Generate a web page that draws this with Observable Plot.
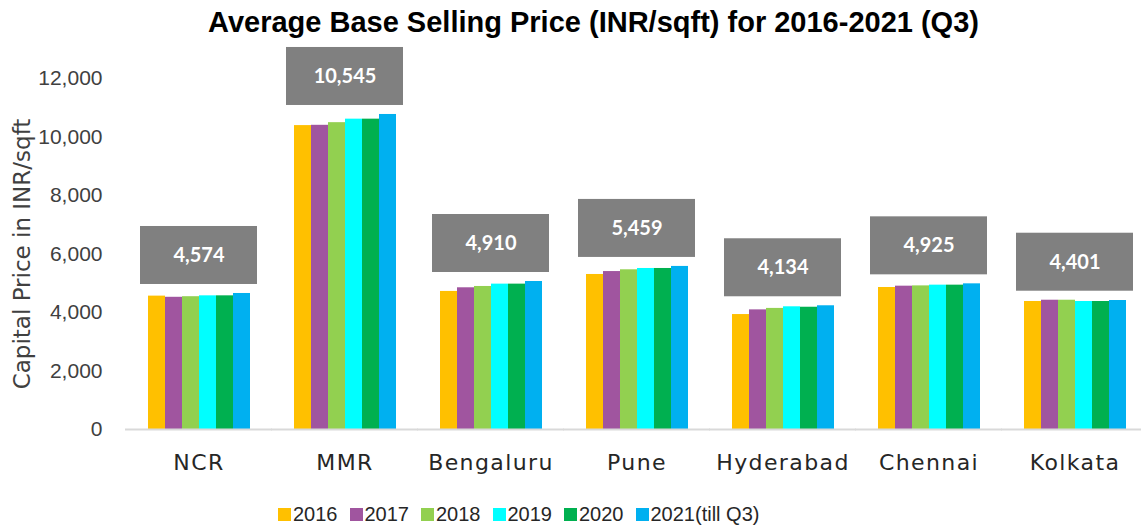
<!DOCTYPE html>
<html>
<head>
<meta charset="utf-8">
<script src="https://cdn.jsdelivr.net/npm/d3@7"></script>
<script src="https://cdn.jsdelivr.net/npm/@observablehq/plot@0.6"></script>
<style>
  html, body { margin: 0; padding: 0; background: #fff; overflow: hidden; width: 1141px; height: 526px; }
  #title { width: 1141px; box-sizing: border-box; padding-left: 46px; height: 46px; line-height: 44px; text-align: center;
    font-family: "Liberation Sans", Arial, sans-serif; font-weight: bold; font-size: 29px; color: #000; white-space: nowrap; }
  #chart { position: absolute; left: 0; top: 46px; }
  #legend { position: absolute; left: 278px; top: 504px; height: 20px; display: flex; align-items: center; gap: 12px;
    font-family: "Liberation Sans", Arial, sans-serif; font-size: 20px; color: #262626; }
  .item { display: flex; align-items: center; white-space: nowrap; }
  .sw { width: 13px; height: 13px; margin-right: 2px; }
  g[aria-label="fx-axis tick label"] text { letter-spacing: 1.4px; }
</style>
</head>
<body>
<div id="title">Average Base Selling Price (INR/sqft) for 2016-2021 (Q3)</div>
<div id="chart"></div>
<div id="legend"></div>
<script>
const cities = ["NCR", "MMR", "Bengaluru", "Pune", "Hyderabad", "Chennai", "Kolkata"];
const years = ["2016", "2017", "2018", "2019", "2020", "2021(till Q3)"];
const price2016 = [4560, 10390, 4720, 5300, 3930, 4855, 4376];
const price2017 = [4520, 10400, 4845, 5400, 4090, 4900, 4420];
const price2018 = [4540, 10490, 4890, 5460, 4140, 4910, 4420];
const price2019 = [4570, 10610, 4970, 5505, 4195, 4935, 4376];
const price2020 = [4570, 10610, 4970, 5505, 4180, 4935, 4376];
const price2021 = [4650, 10770, 5060, 5575, 4230, 4980, 4410];
const averages = [4574, 10545, 4910, 5459, 4134, 4925, 4401];
const colors = ["#FFC000", "#A0559F", "#92D050", "#00FFFF", "#00B050", "#00B0F0"];
const yTicks = [0, 2000, 4000, 6000, 8000, 10000, 12000];

const series = [price2016, price2017, price2018, price2019, price2020, price2021];
const data = [];
cities.forEach((c, i) => series.forEach((s, j) => data.push({city: c, year: years[j], value: s[i]})));

const H = 444, mTop = 32, mBottom = 61;
const unitsPerPx = 12000 / (H - mTop - mBottom);
const labels = cities.map((c, i) => {
  const mx = d3.max(series, s => s[i]);
  return {city: c, avg: averages[i], y1: mx + 9 * unitsPerPx, y2: mx + 67 * unitsPerPx, ym: mx + 38 * unitsPerPx};
});

const chart = Plot.plot({
  width: 1150,
  height: H,
  marginTop: mTop,
  marginBottom: mBottom,
  marginLeft: 125,
  marginRight: 1.5,
  style: {fontFamily: "Liberation Sans, Arial, sans-serif", background: "#fff", maxWidth: "none", overflow: "visible"},
  fx: {domain: cities, paddingInner: 0.27, paddingOuter: 0.135, label: null},
  x: {domain: years, padding: 0, axis: null},
  y: {domain: [0, 12000]},
  color: {domain: years, range: colors},
  marks: [
    Plot.axisY({ticks: yTicks, tickFormat: d3.format(","), tickSize: 0, tickPadding: 43, fontSize: 21, color: "#404040",
      label: "Capital Price in INR/sqft", labelAnchor: "center", labelArrow: "none", labelOffset: 132,
      fontFamily: "Liberation Sans, Arial, sans-serif"}),
    Plot.axisFx({anchor: "bottom", tickSize: 0, tickPadding: 25, fontSize: 22, label: null, color: "#262626",
      fontFamily: "DejaVu Sans, sans-serif"}),
    Plot.barY(data, {fx: "city", x: "year", y: "value", fill: "year"}),
    Plot.ruleY([0], {stroke: "#d9d9d9", strokeWidth: 2, insetLeft: -20, insetRight: -20}),
    Plot.rect(labels, {fx: "city", y1: "y1", y2: "y2", fill: "#808080", insetLeft: -5, insetRight: -5}),
    Plot.text(labels, {fx: "city", y: "ym", text: d => d3.format(",")(d.avg), fill: "#fff", fontWeight: "bold",
      fontSize: 20, fontFamily: "Lato, sans-serif"})
  ]
});
chart.querySelectorAll('g[aria-label="y-axis label"] text').forEach(t => {
  t.style.fontSize = "23px";
  t.style.fontFamily = "DejaVu Sans, sans-serif";
});
document.getElementById("chart").appendChild(chart);

const legend = document.getElementById("legend");
years.forEach((y, i) => {
  const it = document.createElement("div");
  it.className = "item";
  it.innerHTML = `<span class="sw" style="background:${colors[i]}"></span><span>${y}</span>`;
  legend.appendChild(it);
});
</script>
</body>
</html>
